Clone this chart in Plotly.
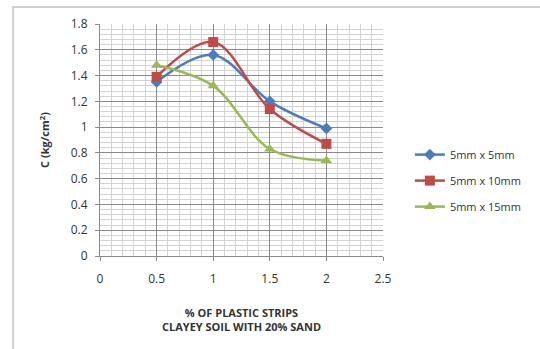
import plotly.graph_objects as go

x_pct = [0.5, 1.0, 1.5, 2.0]
c_5x5 = [1.35, 1.56, 1.20, 0.99]
c_5x10 = [1.39, 1.66, 1.14, 0.87]
c_5x15 = [1.48, 1.32, 0.83, 0.74]
series_names = ["5mm x 5mm", "5mm x 10mm", "5mm x 15mm"]
x_ticks = [0, 0.5, 1, 1.5, 2, 2.5]
y_ticks = [0, 0.2, 0.4, 0.6, 0.8, 1, 1.2, 1.4, 1.6, 1.8]

colors = ["#4a7ebb", "#be4b48", "#98b954"]
symbols = ["diamond", "square", "triangle-up"]
sizes = [9, 10, 10]

fig = go.Figure()
for i, (name, ys, col, sym, sz) in enumerate(zip(series_names, [c_5x5, c_5x10, c_5x15], colors, symbols, sizes)):
    fig.add_trace(go.Scatter(
        x=x_pct, y=ys, name=name, mode="lines+markers", legendgroup=f"g{i}",
        line=dict(color=col, width=2.5, shape="spline", smoothing=1.0),
        marker=dict(symbol=sym, size=sz, color=col),
    ))

font_family = "Open Sans, Liberation Sans, sans-serif"
fig.update_layout(
    width=540, height=349,
    margin=dict(l=100, r=157, t=24, b=93),
    paper_bgcolor="white", plot_bgcolor="white",
    font=dict(family=font_family, size=12, color="#333"),
    showlegend=True,
    legend=dict(x=1.095, y=0.325, xanchor="left", yanchor="middle",
                font=dict(size=11, color="#333"), tracegroupgap=7,
                bgcolor="rgba(0,0,0,0)", itemwidth=30),
    xaxis=dict(range=[0, 2.5], tickvals=x_ticks, ticktext=[str(t) for t in x_ticks],
               showgrid=True, gridcolor="#8a8a8a", gridwidth=1,
               minor=dict(dtick=0.1, showgrid=True, gridcolor="#d2d2d2", gridwidth=1),
               showline=True, linecolor="#8a8a8a", linewidth=1,
               ticks="outside", ticklen=4, tickcolor="#8a8a8a", ticklabelstandoff=8,
               tickfont=dict(size=12, color="#333"),
               zeroline=False, fixedrange=True,
               title=dict(text="<b>% OF PLASTIC STRIPS<br>CLAYEY SOIL WITH 20% SAND</b>",
                          font=dict(size=11, color="#333"), standoff=22)),
    yaxis=dict(range=[0, 1.8], tickvals=y_ticks, ticktext=[f"{t:g}" for t in y_ticks],
               showgrid=True, gridcolor="#8a8a8a", gridwidth=1,
               minor=dict(dtick=0.04, showgrid=True, gridcolor="#d2d2d2", gridwidth=1),
               showline=True, linecolor="#8a8a8a", linewidth=1,
               ticks="outside", ticklen=4, tickcolor="#8a8a8a", ticklabelstandoff=5,
               tickfont=dict(size=12, color="#333"),
               zeroline=False, fixedrange=True,
               title=dict(text="<b>C (kg/cm<sup>2</sup>)</b>",
                          font=dict(size=11, color="#333"), standoff=18)),
)

# outer chart frame
fig.add_shape(type="rect", xref="paper", yref="paper",
              x0=-0.307, x1=1.6, y0=-0.5, y1=1.073,
              line=dict(color="#cfcfcf", width=2), fillcolor="rgba(0,0,0,0)", layer="below")

fig.write_html("out.html")
